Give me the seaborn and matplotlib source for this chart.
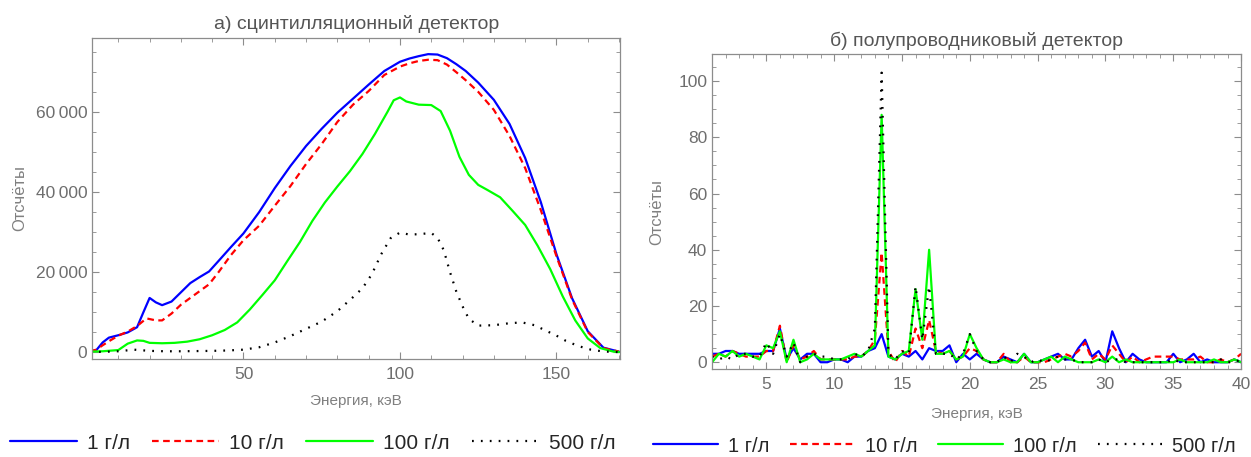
import numpy as np
import pandas as pd
import seaborn as sns
from matplotlib import pyplot as plt
from matplotlib.ticker import MultipleLocator, FuncFormatter
from matplotlib.lines import Line2D

# %% Data: scintillation detector (energy, keV -> counts)
SC_BLUE_X = [1, 3, 5, 7, 10, 13, 16, 18, 20, 22, 24, 27, 30, 33, 36, 39, 42, 46, 50, 55, 60, 65, 70,
             75, 80, 85, 90, 95, 100, 103, 106, 109, 112, 115, 118, 121, 125, 130, 135, 140, 145,
             150, 155, 160, 165, 170]
SC_BLUE_Y = [300, 600, 2500, 3700, 4300, 5000, 6300, 10000, 13600, 12500, 11800, 12700, 15000, 17300,
             18800, 20200, 22800, 26300, 29700, 35000, 41000, 46500, 51500, 55800, 59800, 63300, 66800,
             70200, 72500, 73300, 73900, 74400, 74300, 73400, 71900, 70200, 67300, 63000, 57000,
             48500, 37500, 24500, 13500, 5300, 1200, 200]

SC_RED_X = [1, 3, 5, 7, 10, 13, 16, 19, 22, 24, 27, 30, 33, 36, 39, 42, 46, 50, 55, 60, 65, 70, 75,
            80, 85, 90, 95, 100, 103, 106, 109, 112, 115, 118, 121, 125, 130, 135, 140, 145, 150,
            155, 160, 165, 170]
SC_RED_Y = [300, 700, 1800, 2800, 4200, 5200, 6600, 8500, 8000, 8000, 9700, 11900, 13600, 15300,
            17000, 20000, 24300, 28000, 31600, 36600, 41500, 47000, 52000, 57500, 61800, 65200, 69200,
            71300, 72100, 72700, 73000, 72900, 71800, 69900, 67900, 65000, 60500, 54000, 46000,
            35500, 24000, 13200, 5100, 1100, 200]

SC_GREEN_X = [1, 5, 10, 13, 16, 18, 20, 24, 28, 32, 36, 40, 44, 48, 52, 56, 60, 64, 68, 72, 76, 80,
              84, 88, 92, 96, 98, 100, 102, 106, 110, 113, 116, 119, 122, 125, 128, 132, 136, 140,
              144, 148, 152, 156, 160, 164, 168, 170]
SC_GREEN_Y = [200, 300, 600, 2200, 3000, 2900, 2400, 2300, 2400, 2700, 3300, 4300, 5600, 7500, 10700,
              14300, 18000, 22800, 27500, 32800, 37400, 41400, 45200, 49500, 54500, 60000, 62900,
              63600, 62600, 61800, 61700, 60200, 55300, 48800, 44300, 41800, 40500, 38700, 35300,
              31800, 26600, 20800, 14000, 8000, 3500, 1100, 250, 100]

SC_BLACK_X = [1, 5, 10, 15, 20, 25, 30, 35, 40, 45, 50, 55, 60, 65, 70, 75, 80, 85, 88, 91, 94, 97,
              100, 103, 106, 110, 112, 114, 116, 118, 120, 122, 125, 130, 135, 139, 143, 147, 150,
              153, 157, 161, 165, 170]
SC_BLACK_Y = [200, 150, 300, 700, 400, 300, 300, 350, 400, 500, 700, 1300, 2500, 4100, 5900, 7700,
              10300, 13800, 16000, 19500, 24500, 28500, 29900, 29400, 29500, 29800, 28600, 25500,
              20000, 15200, 11500, 8400, 6700, 6800, 7300, 7500, 6800, 5300, 4200, 2900, 1600, 700,
              250, 80]

# %% Data: semiconductor detector, 0.5 keV bins from 1 to 40 keV
SEMI_X = [1 + 0.5 * i for i in range(79)]
SEMI_BLUE = [3, 3, 4, 4, 3, 3, 3, 3, 4, 4, 12, 1, 5, 1, 3, 3, 0, 0, 1, 1, 0, 2, 2, 4, 5, 10, 2, 1,
             3, 2, 4, 1, 5, 4, 4, 6, 0, 3, 1, 3, 1, 0, 0, 2, 1, 0, 3, 0, 0, 1, 2, 3, 1, 1, 5, 8, 2,
             4, 0, 11, 5, 0, 3, 1, 0, 0, 0, 0, 3, 0, 1, 3, 0, 1, 0, 0, 0, 1, 0]
SEMI_RED = [2, 3, 2, 4, 3, 2, 2, 2, 4, 4, 13, 0, 6, 1, 2, 4, 1, 1, 1, 1, 1, 2, 2, 4, 8, 39, 4, 0,
            4, 2, 12, 5, 15, 4, 3, 4, 1, 2, 5, 4, 1, 0, 0, 3, 0, 0, 2, 0, 0, 0, 1, 2, 3, 2, 4, 7, 1,
            3, 1, 6, 3, 0, 2, 0, 1, 2, 2, 2, 2, 1, 1, 1, 2, 0, 0, 1, 0, 1, 3]
SEMI_GREEN = [0, 3, 2, 4, 2, 3, 2, 1, 6, 5, 11, 0, 8, 0, 1, 3, 1, 1, 1, 1, 2, 3, 2, 4, 6, 88, 2, 1,
              3, 4, 26, 8, 40, 3, 3, 4, 1, 2, 10, 5, 1, 0, 0, 1, 0, 0, 3, 0, 0, 1, 2, 0, 2, 1, 0, 0,
              0, 1, 0, 2, 0, 1, 0, 0, 0, 0, 0, 0, 0, 1, 0, 0, 0, 0, 1, 0, 0, 1, 0]
SEMI_BLACK = [2, 1, 2, 1, 3, 3, 2, 2, 7, 3, 10, 2, 7, 0, 2, 3, 2, 2, 1, 1, 1, 3, 2, 4, 12, 103, 3,
              1, 4, 3, 27, 8, 27, 3, 3, 3, 1, 3, 10, 4, 1, 0, 0, 2, 0, 3, 2, 0, 1, 0, 1, 2, 1, 1, 0,
              0, 0, 1, 0, 1, 1, 0, 0, 0, 0, 0, 0, 0, 1, 0, 0, 0, 0, 0, 0, 1, 0, 0, 1]

LABELS = ["1 г/л", "10 г/л", "100 г/л", "500 г/л"]
COLORS = ["#0000ff", "#ff0000", "#00ff00", "black"]
STYLES = ["-", (0, (3, 2)), "-", (0, (0.8, 3.2))]
WIDTHS = [1.6, 1.6, 1.6, 1.6]

# %% Style
sns.set_style("ticks")
plt.rcParams["font.family"] = ["Liberation Sans", "DejaVu Sans"]
FRAME = "#8c8c8c"
TICKTXT = "#6e6e6e"
LABTXT = "#808080"


def style_axes(ax):
    for s in ax.spines.values():
        s.set_color(FRAME)
        s.set_linewidth(0.9)
    ax.tick_params(which="both", direction="in", top=True, right=True, color=FRAME,
                   labelcolor=TICKTXT, labelsize=12.5)
    ax.tick_params(which="major", length=5, width=0.8)
    ax.tick_params(which="minor", length=3, width=0.6)
    ax.tick_params(axis="x", which="major", pad=5.5)


def add_legend(ax, cx, cy, size):
    handles = [Line2D([], [], color=c, ls=s, lw=w) for c, s, w in zip(COLORS, STYLES, WIDTHS)]
    ax.legend(handles, LABELS, loc="center", bbox_to_anchor=(cx, cy),
              bbox_transform=ax.figure.transFigure, ncol=4, frameon=False, fontsize=size,
              handlelength=3.2, handletextpad=0.5, columnspacing=1.05, borderpad=0.2)


fig = plt.figure(figsize=(12.51, 4.57), dpi=100)
ax1 = fig.add_axes([0.0738, 0.2138, 0.4218, 0.7037])
ax2 = fig.add_axes([0.5692, 0.1926, 0.4229, 0.689])

# %% Left panel
left_sets = [(SC_BLUE_X, SC_BLUE_Y), (SC_RED_X, SC_RED_Y), (SC_GREEN_X, SC_GREEN_Y),
             (SC_BLACK_X, SC_BLACK_Y)]
for (xs, ys), c, s, w in zip(left_sets, COLORS, STYLES, WIDTHS):
    sns.lineplot(x=xs, y=ys, color=c, linestyle=s, linewidth=w, ax=ax1)
ax1.set_xlim(1.7, 170.3)
ax1.set_ylim(-1700, 78500)
ax1.xaxis.set_major_locator(MultipleLocator(50))
ax1.xaxis.set_minor_locator(MultipleLocator(10))
ax1.yaxis.set_major_locator(MultipleLocator(20000))
ax1.yaxis.set_minor_locator(MultipleLocator(5000))
ax1.yaxis.set_major_formatter(FuncFormatter(
    lambda v, p: "0" if v == 0 else f"{int(v) // 1000}\u2009{int(v) % 1000:03d}"))
style_axes(ax1)
ax1.set_title("а) сцинтилляционный детектор", fontsize=14, color="#555555", pad=6)
ax1.set_xlabel("Энергия, кэВ", fontsize=11, color=LABTXT, labelpad=9)
ax1.set_ylabel("Отсчёты", fontsize=12, color=LABTXT, labelpad=6)
add_legend(ax1, 0.250, 0.030, 15)

# %% Right panel
right_sets = [SEMI_BLUE, SEMI_RED, SEMI_GREEN, SEMI_BLACK]
for ys, c, s, w in zip(right_sets, COLORS, STYLES, WIDTHS):
    sns.lineplot(x=SEMI_X, y=ys, color=c, linestyle=s, linewidth=w, ax=ax2)
ax2.set_xlim(1, 40)
ax2.set_ylim(-2.4, 109.6)
ax2.xaxis.set_major_locator(MultipleLocator(5))
ax2.xaxis.set_minor_locator(MultipleLocator(1))
ax2.yaxis.set_major_locator(MultipleLocator(20))
ax2.yaxis.set_minor_locator(MultipleLocator(5))
style_axes(ax2)
ax2.set_title("б) полупроводниковый детектор", fontsize=14, color="#555555", pad=6)
ax2.set_xlabel("Энергия, кэВ", fontsize=11, color=LABTXT, labelpad=11)
ax2.set_ylabel("Отсчёты", fontsize=12, color=LABTXT, labelpad=10)
add_legend(ax2, 0.755, 0.024, 14.5)

fig.savefig("out.png", dpi=100)
